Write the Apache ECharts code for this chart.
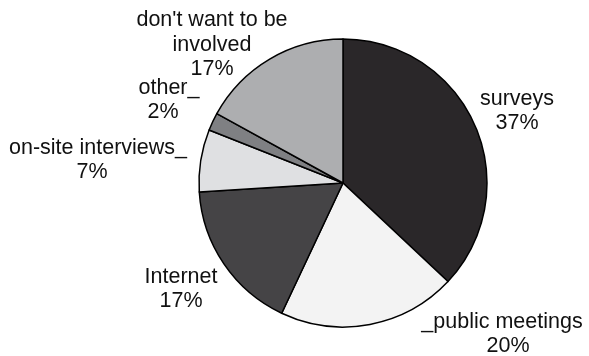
<!DOCTYPE html>
<html>
<head>
<meta charset="utf-8">
<script src="https://cdn.jsdelivr.net/npm/echarts@6/dist/echarts.min.js"></script>
<style>
  html, body { margin: 0; padding: 0; background: #fff; }
  #chart { width: 589px; height: 356px; }
</style>
</head>
<body>
<div id="chart"></div>
<script>
// Response channels and their shares (percent)
const categories = ["surveys", "public meetings", "Internet", "on-site interviews", "other", "don't want to be involved"];
const labelTexts = ["surveys", "_public meetings", "Internet", "on-site interviews_", "other_", "don't want to be\ninvolved"];
const shares = [37, 20, 17, 7, 2, 17];
const sliceColors = ["#2a2729", "#f3f3f3", "#454446", "#dfe0e2", "#7f8083", "#adaeb0"];

// Label block centres, one per slice
const labelCenters = [[517, 111], [502, 334], [181, 289], [98, 160], [169, 100], [212, 45]];
// Percent line is centred on the name without its trailing/leading underscore
const pctStyle = ['pct', 'pctR', 'pct', 'pctL', 'pctL', 'pct'];

const font = 'Liberation Sans, Arial, sans-serif';
const chart = echarts.init(document.getElementById('chart'), null, { renderer: 'canvas' });

chart.setOption({
  backgroundColor: '#ffffff',
  animation: false,
  series: [{
    type: 'pie',
    center: [343, 183],
    radius: 144,
    startAngle: 90,
    clockwise: true,
    avoidLabelOverlap: false,
    itemStyle: { borderColor: '#000000', borderWidth: 1.5 },
    label: {
      show: true,
      position: 'outside',
      fontFamily: font,
      fontSize: 21.5,
      lineHeight: 24.5,
      color: '#111111',
      align: 'center',
      formatter: p => labelTexts[p.dataIndex] + '\n{' + pctStyle[p.dataIndex] + '|' + p.value + '%}',
      rich: {
        pct: { fontFamily: font, fontSize: 21.5, lineHeight: 24.5, color: '#111111' },
        pctL: { fontFamily: font, fontSize: 21.5, lineHeight: 24.5, color: '#111111', padding: [0, 12, 0, 0] },
        pctR: { fontFamily: font, fontSize: 21.5, lineHeight: 24.5, color: '#111111', padding: [0, 0, 0, 12] }
      }
    },
    labelLine: { show: false },
    labelLayout: p => ({
      x: labelCenters[p.dataIndex][0],
      y: labelCenters[p.dataIndex][1],
      align: 'center',
      verticalAlign: 'middle'
    }),
    data: categories.map((name, i) => ({
      name: name,
      value: shares[i],
      itemStyle: { color: sliceColors[i] }
    }))
  }]
});
</script>
</body>
</html>
